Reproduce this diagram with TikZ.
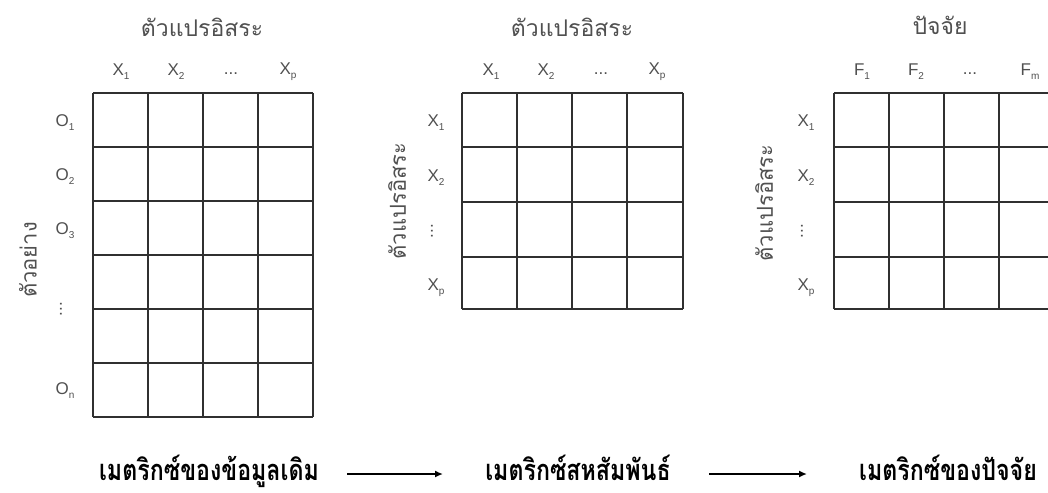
\documentclass[tikz,border=0pt]{standalone}
\usepackage{fontspec}
\setmainfont{Liberation Sans}
\newfontfamily\thai[Script=Thai]{Loma}
\newfontfamily\thaib[Script=Thai,FakeStretch=0.8]{Loma}
\usetikzlibrary{arrows.meta}
\definecolor{txt}{HTML}{505050}
\definecolor{gridc}{HTML}{303030}
\tikzset{
  gridline/.style={draw=gridc, line width=1.4pt},
  title/.style={font=\thai\fontsize{23}{27}\selectfont, text=txt, inner sep=0pt, anchor=base},
  hdr/.style={font=\fontsize{17}{20}\selectfont, text=txt, inner sep=0pt},
  side/.style={font=\thai\fontsize{22}{26}\selectfont, text=txt, inner sep=0pt, rotate=90},
  bottom/.style={font=\thaib\bfseries\fontsize{29}{33}\selectfont, text=black, inner sep=0pt, anchor=base},
  flow/.style={-{Latex[length=8pt,width=7pt]}, line width=1.8pt, black}
}
\newcommand{\sub}[2]{#1\raisebox{-4pt}{\fontsize{10}{12}\selectfont #2}}
\begin{document}
\begin{tikzpicture}[x=1pt,y=-1pt]
\useasboundingbox (0,0) rectangle (1048,492);
% left grid
\foreach \x in {93,148,203,258,313} \draw[gridline] (\x,93) -- (\x,417);
\foreach \y in {93,147,201,255,309,363,417} \draw[gridline] (93,\y) -- (313,\y);
% middle grid
\foreach \x in {462,517,572,627,683} \draw[gridline] (\x,93) -- (\x,309);
\foreach \y in {93,147,202,257,309} \draw[gridline] (462,\y) -- (683,\y);
% right grid (cut at the right edge)
\begin{scope}
\clip (0,0) rectangle (1048,492);
\foreach \x in {834,889,944,999,1054} \draw[gridline] (\x,93) -- (\x,309);
\foreach \y in {93,147,202,257,309} \draw[gridline] (834,\y) -- (1054,\y);
\end{scope}

% left labels
\node[title] (t1) at (202,37) {ตัวแปรอิสระ};
\node[hdr] (l1x1) at (121,72) {\sub{X}{1}};
\node[hdr] (l1x2) at (176,72) {\sub{X}{2}};
\node[hdr] (l1xd) at (231,74) {...};
\node[hdr] (l1xp) at (288,72) {\sub{X}{p}};
\node[hdr] (lo1) at (65,123) {\sub{O}{1}};
\node[hdr] (lo2) at (65,177) {\sub{O}{2}};
\node[hdr] (lo3) at (65,231) {\sub{O}{3}};
\node[hdr, rotate=90] (lod) at (61,309) {...};
\node[hdr] (lon) at (65,391) {\sub{O}{n}};
\node[side] (s1) at (28,260) {ตัวอย่าง};

% middle labels
\node[title] (t2) at (572,37) {ตัวแปรอิสระ};
\node[hdr] (m1x1) at (491,72) {\sub{X}{1}};
\node[hdr] (m1x2) at (546,72) {\sub{X}{2}};
\node[hdr] (m1xd) at (601,74) {...};
\node[hdr] (m1xp) at (657,72) {\sub{X}{p}};
\node[hdr] (mr1) at (436,123) {\sub{X}{1}};
\node[hdr] (mr2) at (436,178) {\sub{X}{2}};
\node[hdr, rotate=90] (mrd) at (432,231) {...};
\node[hdr] (mrp) at (436,288) {\sub{X}{p}};
\node[side] (s2) at (397,201) {ตัวแปรอิสระ};

% right labels
\node[title] (t3) at (940,35) {ปัจจัย};
\node[hdr] (f1) at (862,72) {\sub{F}{1}};
\node[hdr] (f2) at (916,72) {\sub{F}{2}};
\node[hdr] (fd) at (970,74) {...};
\node[hdr] (fm) at (1030,72) {\sub{F}{m}};
\node[hdr] (rr1) at (806,123) {\sub{X}{1}};
\node[hdr] (rr2) at (806,178) {\sub{X}{2}};
\node[hdr, rotate=90] (rrd) at (802,231) {...};
\node[hdr] (rrp) at (806,288) {\sub{X}{p}};
\node[side] (s3) at (764,203) {ตัวแปรอิสระ};

% bottom flow
\node[bottom] (b1) at (209,480) {เมตริกซ์ของข้อมูลเดิม};
\node[bottom] (b2) at (578,480) {เมตริกซ์สหสัมพันธ์};
\node[bottom] (b3) at (948,480) {เมตริกซ์ของปัจจัย};
\coordinate (a1s) at (347,474);
\coordinate (a1e) at (443,474);
\coordinate (a2s) at (709,474);
\coordinate (a2e) at (807,474);
\draw[flow] (a1s) -- (a1e);
\draw[flow] (a2s) -- (a2e);
\end{tikzpicture}
\end{document}
